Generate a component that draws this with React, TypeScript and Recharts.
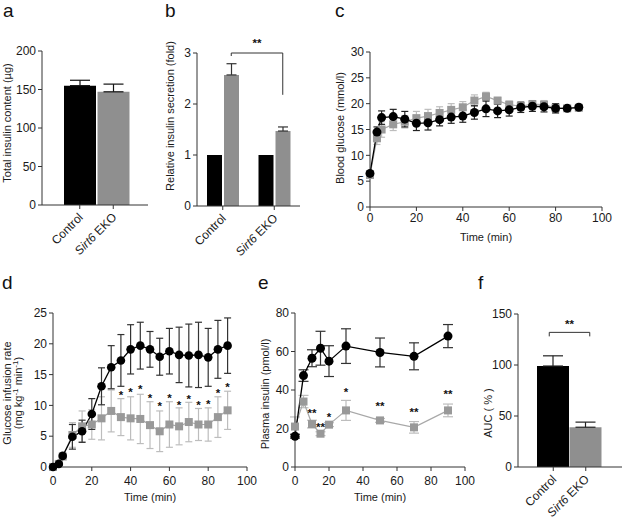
import React from 'react';
import { BarChart, Bar, LineChart, Line, XAxis, YAxis, ErrorBar, ReferenceLine, LabelList, Cell } from 'recharts';

const FONT = '"Liberation Sans", Arial, Helvetica, sans-serif';
const AXIS = '#333333';
const TXT = '#1a1a1a';
const BLACK = '#000000';
const GRAY = '#8f8f8f';
const GRAY_MARK = '#999999';
const GRAY_LINE = '#a8a8a8';
const GRAY_ERR = '#bdbdbd';

// ---------- Panel a ----------
const groups = ['Control', 'Sirt6 EKO'];
const insulinContent = [155, 147];
const insulinContentErr = [7, 10];

// ---------- Panel b ----------
const basalFold = [1, 1];
const stimFold = [2.57, 1.47];
const stimFoldErr = [0.22, 0.08];
const bracketB = [3, 2.18];

// ---------- Panel c ----------
const timeC = [0, 3, 5, 10, 15, 20, 25, 30, 35, 40, 45, 50, 55, 60, 65, 70, 75, 80, 85, 90];
const glucoseCtrl = [6.5, 14.5, 17.3, 17.5, 17.0, 16.2, 16.3, 16.9, 17.4, 17.6, 18.3, 19.0, 18.6, 18.8, 19.3, 19.5, 19.4, 19.1, 19.1, 19.3];
const glucoseCtrlErr = [0.4, 1.0, 1.3, 1.4, 1.5, 1.4, 1.4, 1.2, 1.2, 1.2, 1.3, 1.5, 1.3, 1.2, 1.0, 1.0, 1.0, 0.9, 0.5, 0.5];
const glucoseEko = [6.2, 13.3, 15.0, 16.0, 16.5, 17.2, 17.6, 18.2, 18.8, 19.3, 20.6, 21.4, 20.6, 19.8, 19.5, 19.9, 19.8, 19.2, 19.1, 19.2];
const glucoseEkoErr = [0.4, 1.2, 1.5, 1.2, 1.2, 1.3, 1.3, 1.2, 1.2, 1.1, 1.1, 0.8, 0.6, 0.7, 0.7, 0.7, 0.8, 0.8, 0.5, 0.5];

// ---------- Panel d ----------
const timeD = [0, 3, 5, 10, 15, 20, 25, 30, 35, 40, 45, 50, 55, 60, 65, 70, 75, 80, 85, 90];
const girCtrl = [0, 0.5, 1.8, 4.9, 5.8, 8.6, 13.1, 16.2, 17.3, 19.1, 19.7, 19.1, 17.9, 18.8, 18.2, 18.1, 18.2, 17.8, 19.1, 19.7];
const girCtrlErr = [0, 0.2, 0.4, 2.0, 1.8, 2.5, 3.0, 3.5, 4.2, 4.0, 3.8, 2.9, 3.0, 3.7, 4.5, 5.1, 5.3, 4.7, 4.7, 4.5];
const girEko = [0, 0.5, 1.7, 5.2, 6.6, 6.9, 7.9, 9.1, 8.1, 7.9, 7.8, 6.8, 5.8, 6.9, 6.6, 7.3, 6.9, 6.9, 8.1, 9.2];
const girEkoErr = [0, 0.2, 0.4, 2.0, 2.5, 2.4, 3.5, 3.4, 3.0, 3.5, 4.0, 3.8, 3.3, 3.7, 3.0, 3.2, 2.6, 2.7, 3.3, 3.1];
const girSig = ['', '', '', '', '', '', '', '', '*', '*', '*', '*', '*', '*', '*', '*', '*', '*', '*', '*'];
const girSigAt = [null, null, null, null, null, null, null, null, 12.1, 12.6, 13.0, 11.6, 10.3, 11.6, 10.5, 11.4, 10.4, 10.6, 12.5, 13.4];

// ---------- Panel e ----------
const timeE = [0, 5, 10, 15, 20, 30, 50, 70, 90];
const insCtrl = [16, 47.5, 56.5, 61.7, 55, 62.8, 59.5, 57.5, 68];
const insCtrlErr = [1, 3, 4.4, 8.8, 8, 9, 7.5, 7, 6];
const insEko = [21, 34, 22.3, 17.3, 22, 29.4, 24.2, 20.6, 29.4];
const insEkoErr = [5, 3.2, 2, 1, 1, 5.2, 1, 3, 3.3];
const insSig = ['', '', '**', '**', '*', '*', '**', '**', '**'];
const insSigAt = [null, null, 29.4, 22.3, 27.5, 40.2, 33.2, 29.8, 39];

// ---------- Panel f ----------
const auc = [99, 39];
const aucErr = [10, 5];
const bracketF = 132;

const tickStyle = { fontSize: 12, fill: TXT, fontFamily: FONT };

const CatTick = (p: any) => {
  const v = p.payload?.value;
  return (
    <g transform={`translate(${p.x + 4},${p.y + 7})`}>
      <text x={0} y={0} textAnchor="end" transform="rotate(-45)" fontSize={12} fill={TXT} fontFamily={FONT}>
        {v === 'Sirt6 EKO' ? (
          <>
            <tspan fontStyle="italic">Sirt6</tspan>
            <tspan> EKO</tspan>
          </>
        ) : (
          v
        )}
      </text>
    </g>
  );
};

const yLabel = (lines: React.ReactNode[], x: number, cy: number) => () => (
  <text
    x={x}
    y={cy}
    transform={`rotate(-90 ${x} ${cy})`}
    textAnchor="middle"
    fontSize={11}
    fill={TXT}
    fontFamily={FONT}
  >
    {lines.map((l, i) => (
      <tspan key={i} x={x} dy={i === 0 ? '0.35em' : '1.05em'}>
        {l}
      </tspan>
    ))}
  </text>
);

const xLabel = (value: string, cx: number, y: number) => () => (
  <text x={cx} y={y} textAnchor="middle" fontSize={11} fill={TXT} fontFamily={FONT}>
    {value}
  </text>
);

const SquareDot = (p: any) => {
  if (p.cx == null || p.cy == null || p.value == null) return <g key={p.key ?? p.index} />;
  return <rect key={p.key ?? p.index} x={p.cx - 4} y={p.cy - 4} width={8} height={8} fill={GRAY_MARK} />;
};

const StarLabel = (p: any) => {
  if (!p.value || p.y == null) return null;
  return (
    <text x={p.x} y={p.y + 6.5} textAnchor="middle" fontSize={11.5} fontWeight="bold" fill="#111" fontFamily={FONT}>
      {p.value}
    </text>
  );
};

const BracketBShape = (p: any) => {
  const off = 8.5;
  const xa = p.x1 + off;
  const xb = p.x2 + off;
  return (
    <g>
      <path d={`M${xa},${p.y1 + 3}V${p.y1}H${xb}V${p.y2}`} fill="none" stroke={AXIS} strokeWidth={1} />
      <text x={(xa + xb) / 2} y={p.y1 - 6} textAnchor="middle" fontSize={11.5} fontWeight="bold" fill="#111" fontFamily={FONT}>
        **
      </text>
    </g>
  );
};

const BracketFShape = (p: any) => {
  const xa = p.x1 - 4;
  const xb = p.x2 + 4;
  return (
    <g>
      <path d={`M${xa},${p.y1 + 4}V${p.y1}H${xb}V${p.y1 + 4}`} fill="none" stroke={AXIS} strokeWidth={1} />
      <text x={(xa + xb) / 2} y={p.y1 - 4} textAnchor="middle" fontSize={11.5} fontWeight="bold" fill="#111" fontFamily={FONT}>
        **
      </text>
    </g>
  );
};

const axisCommon = {
  stroke: AXIS,
  tickSize: 4,
  tickMargin: 2,
  tick: tickStyle,
  interval: 0 as const,
};

function PanelA() {
  const data = groups.map((g, i) => ({ name: g, value: insulinContent[i], err: [0, insulinContentErr[i]] }));
  return (
    <BarChart width={160} height={260} data={data} margin={{ top: 51, right: 12, left: 0, bottom: 0 }} barSize={32}>
      <XAxis dataKey="name" height={55} padding={{ left: 21, right: 18 }} stroke={AXIS} tickSize={4} tickMargin={2} interval={0} tick={<CatTick />} />
      <YAxis
        {...axisCommon}
        width={42}
        domain={[0, 200]}
        ticks={[0, 50, 100, 150, 200]}
        label={yLabel(['Total insulin content (µg)'], 7, 123)}
      />
      <Bar dataKey="value" isAnimationActive={false}>
        {data.map((d, i) => (
          <Cell key={i} fill={i === 0 ? BLACK : GRAY} />
        ))}
        <ErrorBar dataKey="err" direction="y" width={10} stroke="#111" strokeWidth={1.2} isAnimationActive={false} />
      </Bar>
    </BarChart>
  );
}

function PanelB() {
  const data = groups.map((g, i) => ({
    name: g,
    basal: basalFold[i],
    stim: stimFold[i],
    stimErr: [0, stimFoldErr[i]],
  }));
  return (
    <BarChart width={150} height={260} data={data} margin={{ top: 53, right: 10, left: 0, bottom: 0 }} barSize={15} barGap={2}>
      <XAxis dataKey="name" height={54} stroke={AXIS} tickSize={4} tickMargin={2} interval={0} tick={<CatTick />} />
      <YAxis
        {...axisCommon}
        width={37}
        domain={[0, 3]}
        ticks={[0, 1, 2, 3]}
        label={yLabel(['Relative insulin secretion (fold)'], 10, 116)}
      />
      <Bar dataKey="basal" fill={BLACK} isAnimationActive={false} />
      <Bar dataKey="stim" fill={GRAY} isAnimationActive={false}>
        <ErrorBar dataKey="stimErr" direction="y" width={5} stroke="#333" strokeWidth={1.2} isAnimationActive={false} />
      </Bar>
      <ReferenceLine
        ifOverflow="visible"
        segment={[
          { x: groups[0], y: bracketB[0] },
          { x: groups[1], y: bracketB[1] },
        ]}
        shape={BracketBShape}
      />
    </BarChart>
  );
}

function PanelC() {
  const data = timeC.map((t, i) => ({
    t,
    ctrl: glucoseCtrl[i],
    ctrlErr: glucoseCtrlErr[i],
    eko: glucoseEko[i],
    ekoErr: glucoseEkoErr[i],
  }));
  return (
    <LineChart width={305} height={260} data={data} margin={{ top: 52, right: 23, left: 0, bottom: 0 }}>
      <XAxis
        {...axisCommon}
        type="number"
        dataKey="t"
        domain={[0, 100]}
        ticks={[0, 20, 40, 60, 80, 100]}
        height={53}
        label={xLabel('Time (min)', 166, 241)}
      />
      <YAxis
        {...axisCommon}
        width={50}
        domain={[0, 30]}
        ticks={[0, 5, 10, 15, 20, 25, 30]}
        label={yLabel(['Blood glucose (mmol/l)'], 20, 128)}
      />
      <Line dataKey="eko" stroke={GRAY_LINE} strokeWidth={1.2} dot={SquareDot} activeDot={false} isAnimationActive={false}>
        <ErrorBar dataKey="ekoErr" direction="y" width={3.5} stroke={GRAY_ERR} strokeWidth={1.2} isAnimationActive={false} />
      </Line>
      <Line
        dataKey="ctrl"
        stroke={BLACK}
        strokeWidth={1.3}
        dot={{ r: 4.5, fill: BLACK, stroke: BLACK, strokeWidth: 0 }}
        activeDot={false}
        isAnimationActive={false}
      >
        <ErrorBar dataKey="ctrlErr" direction="y" width={3.5} stroke="#222" strokeWidth={1.2} isAnimationActive={false} />
      </Line>
    </LineChart>
  );
}

function PanelD() {
  const data = timeD.map((t, i) => ({
    t,
    ctrl: girCtrl[i],
    ctrlErr: girCtrlErr[i],
    eko: girEko[i],
    ekoErr: girEkoErr[i],
    sig: girSig[i],
    sigAt: girSigAt[i],
  }));
  const line2 = (
    <>
      (mg kg
      <tspan dy={-4} fontSize={8}>-1</tspan>
      <tspan dy={4}> min</tspan>
      <tspan dy={-4} fontSize={8}>-1</tspan>
      <tspan dy={4}>)</tspan>
    </>
  );
  return (
    <LineChart width={268} height={260} data={data} margin={{ top: 53, right: 21, left: 0, bottom: 0 }}>
      <XAxis
        {...axisCommon}
        tickMargin={5}
        type="number"
        dataKey="t"
        domain={[0, 100]}
        ticks={[0, 20, 40, 60, 80, 100]}
        height={53}
        label={xLabel('Time (min)', 150, 241)}
      />
      <YAxis
        {...axisCommon}
        width={53}
        domain={[0, 25]}
        ticks={[0, 5, 10, 15, 20, 25]}
        label={yLabel(['Glucose infusion rate', line2], 7, 133)}
      />
      <Line dataKey="eko" stroke={GRAY_LINE} strokeWidth={1.2} dot={SquareDot} activeDot={false} isAnimationActive={false}>
        <ErrorBar dataKey="ekoErr" direction="y" width={3.5} stroke={GRAY_ERR} strokeWidth={1.2} isAnimationActive={false} />
      </Line>
      <Line
        dataKey="ctrl"
        stroke={BLACK}
        strokeWidth={1.3}
        dot={{ r: 4.3, fill: BLACK, stroke: BLACK, strokeWidth: 0 }}
        activeDot={false}
        isAnimationActive={false}
      >
        <ErrorBar dataKey="ctrlErr" direction="y" width={3.5} stroke="#333" strokeWidth={1.2} isAnimationActive={false} />
      </Line>
      <Line dataKey="sigAt" stroke="none" dot={false} activeDot={false} isAnimationActive={false}>
        <LabelList dataKey="sig" content={StarLabel} />
      </Line>
    </LineChart>
  );
}

function PanelE() {
  const data = timeE.map((t, i) => ({
    t,
    ctrl: insCtrl[i],
    ctrlErr: insCtrlErr[i],
    eko: insEko[i],
    ekoErr: insEkoErr[i],
    sig: insSig[i],
    sigAt: insSigAt[i],
  }));
  return (
    <LineChart width={235} height={260} data={data} margin={{ top: 53, right: 25, left: 0, bottom: 0 }}>
      <XAxis
        {...axisCommon}
        tickMargin={5}
        type="number"
        dataKey="t"
        domain={[0, 100]}
        ticks={[0, 20, 40, 60, 80, 100]}
        height={53}
        label={xLabel('Time (min)', 125, 241)}
      />
      <YAxis
        {...axisCommon}
        width={40}
        domain={[0, 80]}
        ticks={[0, 20, 40, 60, 80]}
        label={yLabel(['Plasma insulin (pmol/l)'], 10, 134)}
      />
      <Line dataKey="eko" stroke={GRAY_LINE} strokeWidth={1.2} dot={SquareDot} activeDot={false} isAnimationActive={false}>
        <ErrorBar dataKey="ekoErr" direction="y" width={5} stroke={GRAY_ERR} strokeWidth={1.2} isAnimationActive={false} />
      </Line>
      <Line
        dataKey="ctrl"
        stroke={BLACK}
        strokeWidth={1.3}
        dot={{ r: 4.5, fill: BLACK, stroke: BLACK, strokeWidth: 0 }}
        activeDot={false}
        isAnimationActive={false}
      >
        <ErrorBar dataKey="ctrlErr" direction="y" width={5} stroke="#333" strokeWidth={1.2} isAnimationActive={false} />
      </Line>
      <Line dataKey="sigAt" stroke="none" dot={false} activeDot={false} isAnimationActive={false}>
        <LabelList dataKey="sig" content={StarLabel} />
      </Line>
    </LineChart>
  );
}

function PanelF() {
  const data = groups.map((g, i) => ({ name: g, value: auc[i], err: [0, aucErr[i]] }));
  return (
    <BarChart width={145} height={260} data={data} margin={{ top: 54, right: 3, left: 0, bottom: 0 }} barSize={32}>
      <XAxis dataKey="name" height={53} padding={{ left: 19, right: 20 }} stroke={AXIS} tickSize={4} tickMargin={2} interval={0} tick={<CatTick />} />
      <YAxis
        {...axisCommon}
        width={38}
        domain={[0, 150]}
        ticks={[0, 50, 100, 150]}
        label={yLabel(['AUC ( % )'], 8, 153)}
      />
      <Bar dataKey="value" isAnimationActive={false}>
        {data.map((d, i) => (
          <Cell key={i} fill={i === 0 ? BLACK : GRAY} />
        ))}
        <ErrorBar dataKey="err" direction="y" width={10} stroke="#222" strokeWidth={1.2} isAnimationActive={false} />
      </Bar>
      <ReferenceLine
        ifOverflow="visible"
        segment={[
          { x: groups[0], y: bracketF },
          { x: groups[1], y: bracketF },
        ]}
        shape={BracketFShape}
      />
    </BarChart>
  );
}

const panelLetters = [
  { t: 'a', x: 3, y: 17 },
  { t: 'b', x: 165, y: 17 },
  { t: 'c', x: 335, y: 17 },
  { t: 'd', x: 2, y: 289 },
  { t: 'e', x: 258, y: 289 },
  { t: 'f', x: 478, y: 289 },
];

export default function App() {
  const box = (left: number, top: number, child: React.ReactNode) => (
    <div style={{ position: 'absolute', left, top }}>{child}</div>
  );
  return (
    <div style={{ position: 'absolute', left: 0, top: 0, width: 625, height: 520, background: '#fff', fontFamily: FONT }}>
      {box(0, 0, <PanelA />)}
      {box(160, 0, <PanelB />)}
      {box(320, 0, <PanelC />)}
      {box(0, 260, <PanelD />)}
      {box(255, 260, <PanelE />)}
      {box(480, 260, <PanelF />)}
      <svg width={625} height={520} style={{ position: 'absolute', left: 0, top: 0, pointerEvents: 'none' }}>
        {panelLetters.map((l) => (
          <text key={l.t} x={l.x} y={l.y} fontSize={19} fill="#111" fontFamily={FONT}>
            {l.t}
          </text>
        ))}
      </svg>
    </div>
  );
}
